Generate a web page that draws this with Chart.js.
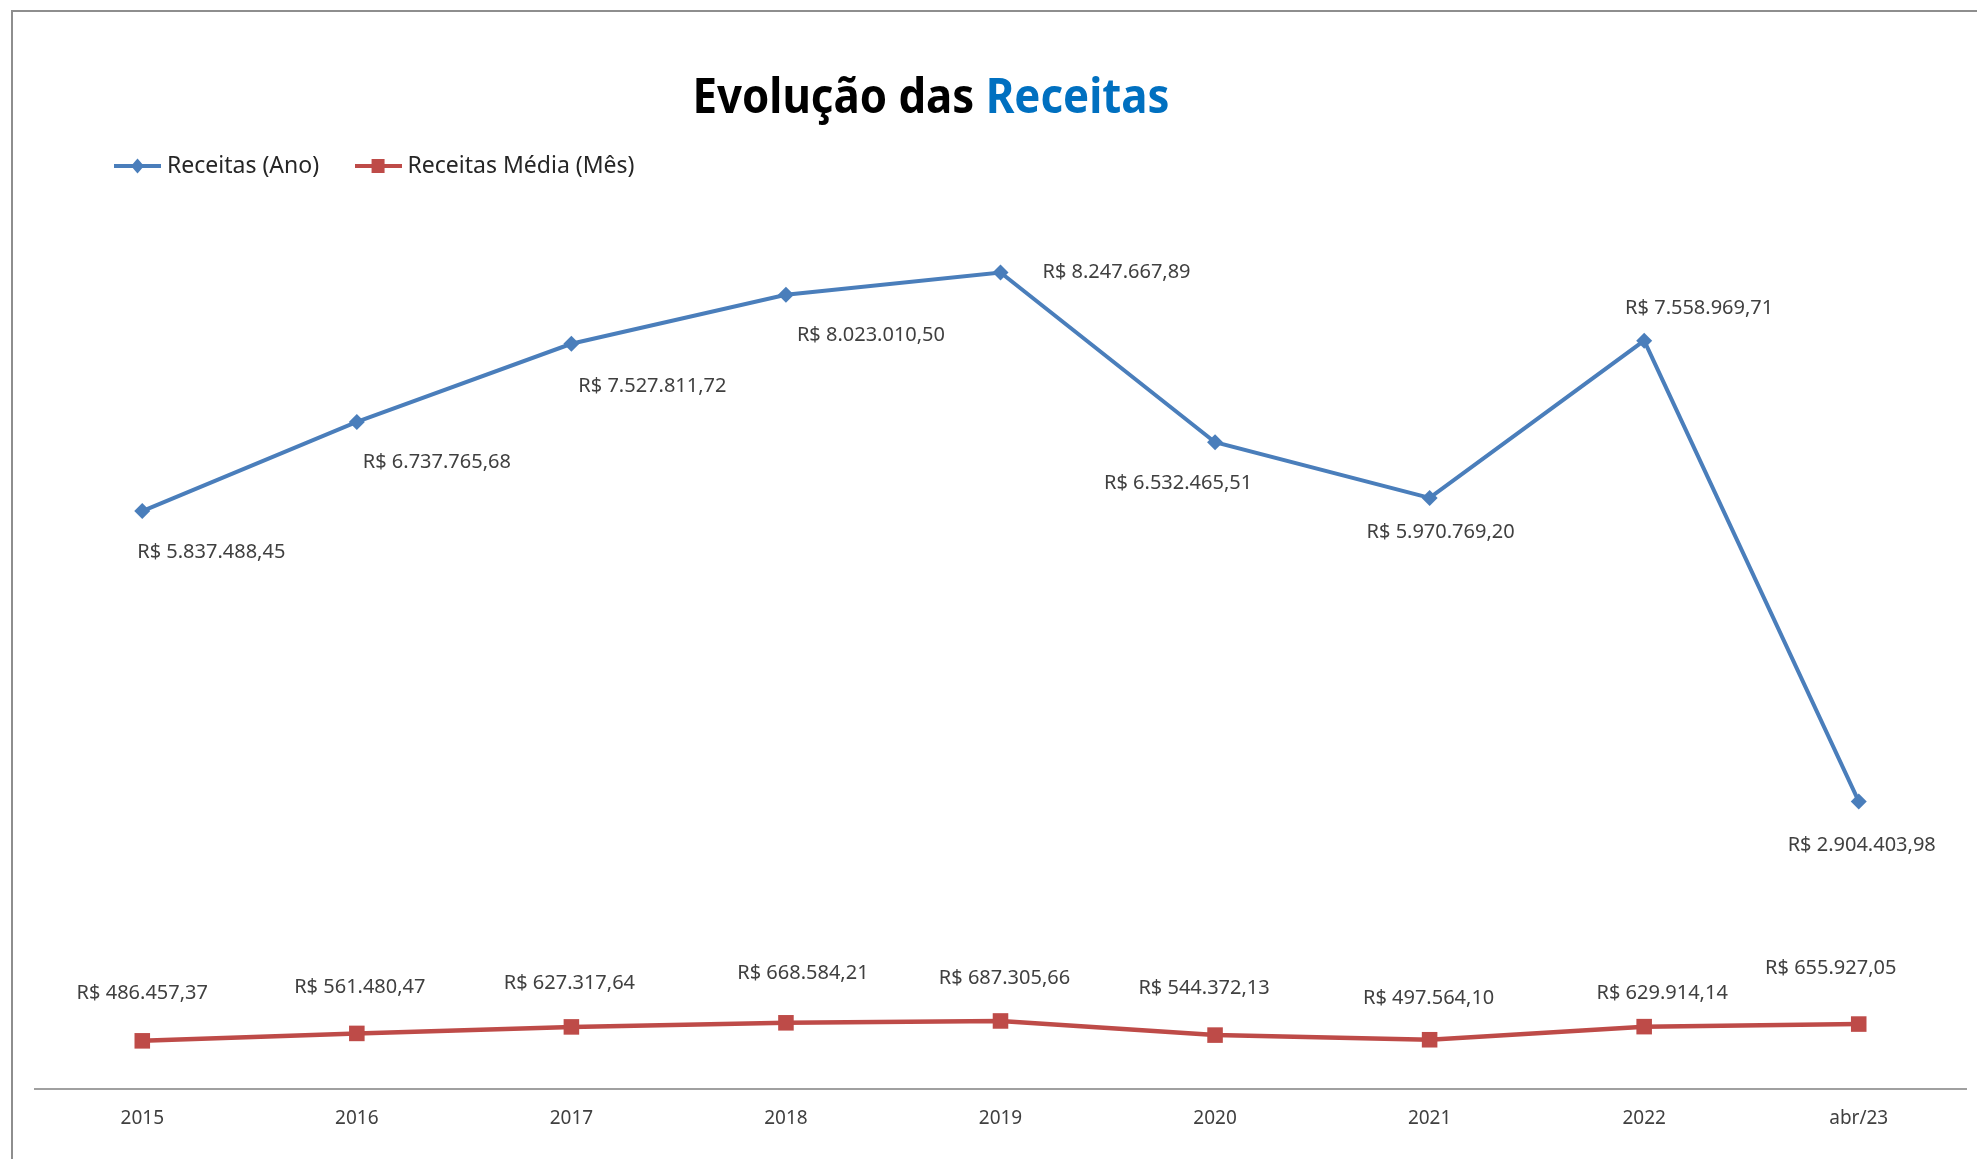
<!DOCTYPE html>
<html><head><meta charset="utf-8">
<script src="https://cdn.jsdelivr.net/npm/chart.js@4"></script>
<style>html,body{margin:0;padding:0;background:#fff;overflow:hidden}#wrap{width:1977px;height:1159px;position:relative}</style>
</head><body><div id="wrap"><canvas id="c" width="1977" height="1159"></canvas></div>
<script>
const categories = ['2015','2016','2017','2018','2019','2020','2021','2022','abr/23'];
const receitasAno = [5837488.45, 6737765.68, 7527811.72, 8023010.50, 8247667.89, 6532465.51, 5970769.20, 7558969.71, 2904403.98];
const receitasMediaMes = [486457.37, 561480.47, 627317.64, 668584.21, 687305.66, 544372.13, 497564.10, 629914.14, 655927.05];
const seriesNames = ['Receitas (Ano)', 'Receitas Média (Mês)'];
const titleParts = ['Evolução das ', 'Receitas'];
const yMin = 0;
const yMax = 9000000;

// label placement offsets (style only, in px relative to each point)
const anoLabelOffsets = [[69,41],[80,40],[81,43],[85,41],[116,0],[-37,41],[11,34],[55,-32],[3,44]];
const mesLabelOffsets = [[0,-48],[3,-46],[-2,-44],[17,-50],[4,-43],[-11,-47],[-1,-41],[18,-33],[-28,-56]];

const BLUE = '#4A7EBB', RED = '#BE4B48';
const FONT = '"Noto Sans", "DejaVu Sans", sans-serif';
const AREA_TOP = 198, AREA_BOTTOM = 1089;

function fmtBRL(v) {
  const neg = v < 0; v = Math.abs(v);
  const s = v.toFixed(2);
  let [ip, dp] = s.split('.');
  ip = ip.replace(/\B(?=(\d{3})+(?!\d))/g, '.');
  return (neg ? '-' : '') + 'R$ ' + ip + ',' + dp;
}

function makeIcon(color, shape) {
  const c = document.createElement('canvas');
  c.width = 47; c.height = 18;
  const g = c.getContext('2d');
  g.strokeStyle = color; g.lineWidth = 4;
  g.beginPath(); g.moveTo(0, 9); g.lineTo(47, 9); g.stroke();
  g.fillStyle = color;
  g.beginPath();
  if (shape === 'diamond') {
    g.moveTo(23.5, 1.5); g.lineTo(30, 9); g.lineTo(23.5, 16.5); g.lineTo(17, 9); g.closePath();
  } else {
    g.rect(17, 2, 13, 14);
  }
  g.fill();
  return c;
}
const icons = [makeIcon(BLUE, 'diamond'), makeIcon(RED, 'square')];

const framePlugin = {
  id: 'frame',
  beforeDraw(chart) {
    const ctx = chart.ctx;
    ctx.save();
    ctx.fillStyle = '#fff';
    ctx.fillRect(0, 0, chart.width, chart.height);
    ctx.strokeStyle = '#8E8E8E';
    ctx.lineWidth = 2;
    ctx.beginPath();
    ctx.moveTo(12, chart.height);
    ctx.lineTo(12, 11);
    ctx.lineTo(chart.width, 11);
    ctx.stroke();
    ctx.restore();
  }
};

const titlePlugin = {
  id: 'twoColorTitle',
  afterDraw(chart) {
    const ctx = chart.ctx;
    ctx.save();
    ctx.font = 'bold 48px ' + FONT;
    ctx.textBaseline = 'alphabetic';
    ctx.textAlign = 'left';
    const w0 = ctx.measureText(titleParts[0]).width;
    const w1 = ctx.measureText(titleParts[1]).width;
    const total = w0 + w1;
    const target = 477;
    const sx = target / total;
    const cx = 931, base = 113;
    ctx.translate(cx - target / 2, base);
    ctx.scale(sx, 1);
    ctx.fillStyle = '#000000';
    ctx.fillText(titleParts[0], 0, 0);
    ctx.fillStyle = '#0070C0';
    ctx.fillText(titleParts[1], w0, 0);
    ctx.restore();
  }
};

const legendPlace = {
  id: 'legendPlace',
  afterLayout(chart) {
    const lg = chart.legend;
    if (!lg) return;
    const pad = lg.options.labels.padding;
    const fs = lg.options.labels.font.size;
    const h = lg.height;
    lg.left = 119.5 - pad;
    lg.right = 1960;
    lg.width = lg.right - lg.left;
    lg.top = 166 - pad - fs / 2;
    lg.bottom = lg.top + h;
  }
};

const pointLabels = {
  id: 'pointLabels',
  afterDatasetsDraw(chart) {
    const ctx = chart.ctx;
    ctx.save();
    ctx.font = '20px ' + FONT;
    ctx.fillStyle = '#404040';
    ctx.textAlign = 'center';
    ctx.textBaseline = 'middle';
    const offs = [anoLabelOffsets, mesLabelOffsets];
    chart.data.datasets.forEach((ds, di) => {
      const meta = chart.getDatasetMeta(di);
      meta.data.forEach((pt, i) => {
        const [dx, dy] = offs[di][i];
        ctx.fillText(fmtBRL(ds.data[i]), pt.x + dx, pt.y + dy);
      });
    });
    ctx.restore();
  }
};

const chart = new Chart(document.getElementById('c'), {
  type: 'line',
  data: {
    labels: categories,
    datasets: [
      {
        label: seriesNames[0], data: receitasAno,
        borderColor: BLUE, backgroundColor: BLUE, borderWidth: 4,
        pointStyle: 'rectRot', pointRadius: 8, pointBorderWidth: 0,
        pointBackgroundColor: BLUE, tension: 0, clip: false
      },
      {
        label: seriesNames[1], data: receitasMediaMes,
        borderColor: RED, backgroundColor: RED, borderWidth: 4.5,
        pointStyle: 'rect', pointRadius: 11, pointBorderWidth: 0,
        pointBackgroundColor: RED, tension: 0, clip: false
      }
    ]
  },
  options: {
    responsive: false,
    devicePixelRatio: 1,
    animation: false,
    layout: { padding: { left: 35, right: 9.5, top: 120, bottom: 29 } },
    plugins: {
      title: { display: false },
      tooltip: { enabled: false },
      legend: {
        display: true,
        position: 'top',
        align: 'start',
        labels: {
          usePointStyle: true,
          pointStyleWidth: 36,
          padding: 41,
          color: '#262626',
          font: { size: 23, family: FONT },
          generateLabels(chart) {
            return chart.data.datasets.map((ds, i) => ({
              text: ds.label, pointStyle: icons[i], fillStyle: ds.borderColor,
              strokeStyle: ds.borderColor, lineWidth: 0, hidden: false,
              datasetIndex: i, fontColor: '#262626'
            }));
          }
        }
      }
    },
    scales: {
      x: {
        type: 'category', offset: true,
        grid: { display: false, drawTicks: false },
        border: { display: true, color: '#A0A0A0', width: 2 },
        ticks: { color: '#404040', font: { size: 19, family: FONT }, padding: 18, maxRotation: 0, autoSkip: false }
      },
      y: { display: false, min: yMin, max: yMax }
    }
  },
  plugins: [framePlugin, legendPlace, pointLabels, titlePlugin]
});

for (let k = 0; k < 3; k++) {
  const ca = chart.chartArea;
  const dt = AREA_TOP - ca.top;
  const db = ca.bottom - AREA_BOTTOM;
  if (Math.abs(dt) < 0.5 && Math.abs(db) < 0.5) break;
  chart.options.layout.padding.top += dt;
  chart.options.layout.padding.bottom += db;
  chart.update();
}
</script></body></html>
